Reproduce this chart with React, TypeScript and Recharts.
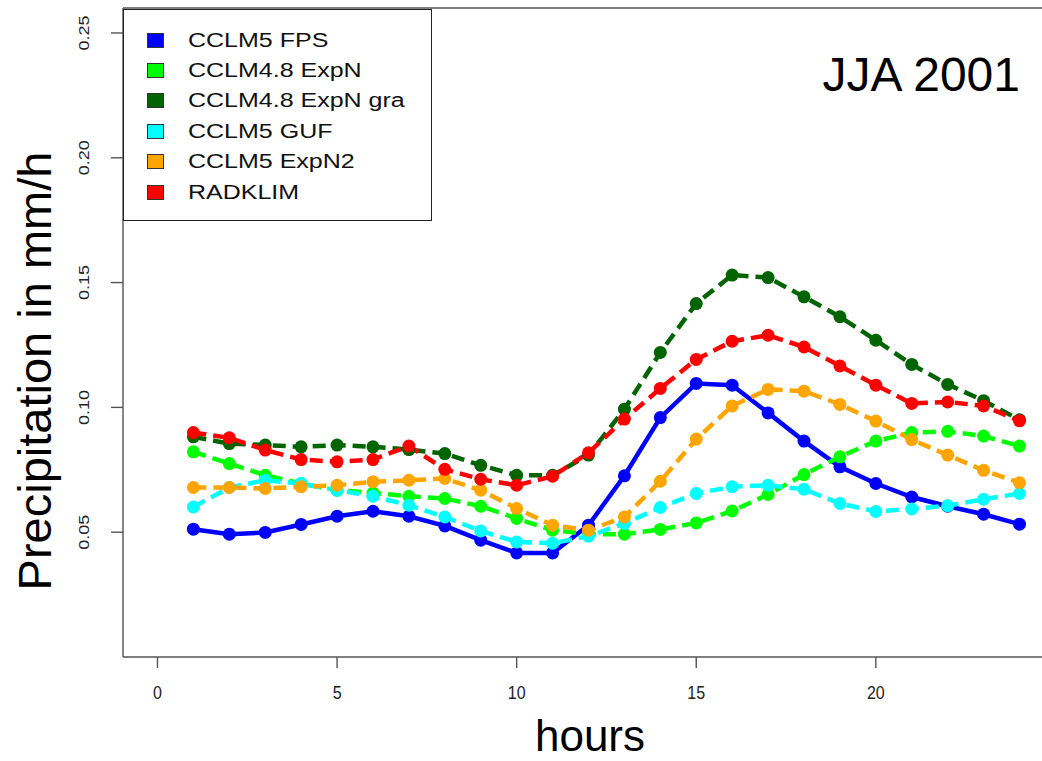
import { LineChart, Line, XAxis, YAxis, ReferenceLine } from 'recharts'

const HOURS = [1, 2, 3, 4, 5, 6, 7, 8, 9, 10, 11, 12, 13, 14, 15, 16, 17, 18, 19, 20, 21, 22, 23, 24]

const FPS = [0.0512, 0.0492, 0.0499, 0.0531, 0.0564, 0.0584, 0.0564, 0.0525, 0.0468, 0.0417, 0.0417, 0.0528, 0.0726, 0.0959, 0.1096, 0.1089, 0.0978, 0.0865, 0.0762, 0.0695, 0.0641, 0.0604, 0.0572, 0.0532]
const EXPN = [0.0822, 0.0775, 0.0728, 0.0695, 0.0668, 0.0657, 0.0644, 0.0635, 0.0604, 0.0555, 0.0508, 0.0492, 0.0492, 0.0511, 0.0537, 0.0585, 0.0651, 0.0731, 0.0802, 0.0865, 0.0899, 0.0904, 0.0885, 0.0845]
const EXPN_GRA = [0.0882, 0.0855, 0.0849, 0.0842, 0.0849, 0.0842, 0.0831, 0.0815, 0.0768, 0.0728, 0.0728, 0.0809, 0.0993, 0.122, 0.1416, 0.153, 0.152, 0.1443, 0.1363, 0.1269, 0.1172, 0.1092, 0.1027, 0.095]
const GUF = [0.0601, 0.0679, 0.0708, 0.0695, 0.0668, 0.0644, 0.0608, 0.0561, 0.0505, 0.0461, 0.0456, 0.0484, 0.0535, 0.0599, 0.0655, 0.0682, 0.0688, 0.0672, 0.0615, 0.0583, 0.0593, 0.0606, 0.0632, 0.0655]
const EXPN2 = [0.0679, 0.0679, 0.0675, 0.0682, 0.0688, 0.0702, 0.0708, 0.0715, 0.0668, 0.0595, 0.0528, 0.0508, 0.0561, 0.0704, 0.0873, 0.1006, 0.1072, 0.1065, 0.1012, 0.0945, 0.0871, 0.0809, 0.0748, 0.0698]
const RADKLIM = [0.0899, 0.0878, 0.0829, 0.0791, 0.0782, 0.0791, 0.0845, 0.0752, 0.0712, 0.0688, 0.0724, 0.0818, 0.0953, 0.1076, 0.1192, 0.1265, 0.1289, 0.1242, 0.1166, 0.1089, 0.1016, 0.1022, 0.1006, 0.0946]

const X_TICKS = [0, 5, 10, 15, 20]
const Y_TICKS = [0.05, 0.1, 0.15, 0.2, 0.25]
const Y_LABELS = ['0.05', '0.10', '0.15', '0.20', '0.25']

// legend order = draw order (later on top)
const SERIES = [
  { key: 'fps', name: 'CCLM5 FPS', values: FPS, color: '#0000ff', dashed: false },
  { key: 'expn', name: 'CCLM4.8 ExpN', values: EXPN, color: '#00ff00', dashed: true },
  { key: 'gra', name: 'CCLM4.8 ExpN gra', values: EXPN_GRA, color: '#006400', dashed: true },
  { key: 'guf', name: 'CCLM5 GUF', values: GUF, color: '#00ffff', dashed: true },
  { key: 'expn2', name: 'CCLM5 ExpN2', values: EXPN2, color: '#ffa500', dashed: true },
  { key: 'rad', name: 'RADKLIM', values: RADKLIM, color: '#ff0000', dashed: true },
]

const rows = HOURS.map((h, i) => {
  const r: Record<string, number> = { hour: h }
  SERIES.forEach(s => { r[s.key] = s.values[i] })
  return r
})

const FONT = '"Liberation Sans", Arial, Helvetica, sans-serif'
const AXIS = '#555'

function XTick({ x, y, payload }: any) {
  return (
    <text transform={`translate(${x},${y + 29}) scale(1,1.2)`} textAnchor="middle" fontSize={16} fill="#222" fontFamily={FONT}>
      {payload.value}
    </text>
  )
}

function YTick({ x, y, payload, index }: any) {
  return (
    <text transform={`translate(${x - 20},${y}) rotate(-90) scale(1,0.78)`} textAnchor="middle" fontSize={18} fill="#222" fontFamily={FONT}>
      {Y_LABELS[index] ?? payload.value}
    </text>
  )
}

export default function App() {
  return (
    <div style={{ position: 'absolute', left: 0, top: 0, width: 1042, height: 761, overflow: 'hidden', background: '#fff' }}>
      <LineChart width={1054} height={761} data={rows} margin={{ top: 8, right: 0, bottom: 0, left: 0 }}>
        <XAxis
          dataKey="hour"
          type="number"
          domain={[-0.96, 24.96]}
          ticks={X_TICKS}
          allowDataOverflow
          height={104}
          tickSize={11}
          stroke={AXIS}
          strokeWidth={1.4}
          tick={<XTick />}
        />
        <YAxis
          type="number"
          domain={[0, 0.26]}
          ticks={Y_TICKS}
          allowDataOverflow
          width={123}
          tickSize={12}
          stroke={AXIS}
          strokeWidth={1.4}
          tick={<YTick />}
        />
        <ReferenceLine y={0.26} stroke={AXIS} strokeWidth={1.4} />
        {SERIES.map(s => (
          <Line
            key={s.key}
            dataKey={s.key}
            name={s.name}
            type="linear"
            stroke={s.color}
            strokeWidth={4.5}
            strokeDasharray={s.dashed ? '13 7' : undefined}
            dot={{ r: 6.5, fill: s.color, stroke: 'none' }}
            activeDot={false}
            isAnimationActive={false}
          />
        ))}
      </LineChart>

      {/* axis titles */}
      <svg width={1042} height={761} style={{ position: 'absolute', left: 0, top: 0, pointerEvents: 'none' }}>
        <text x={590} y={751} textAnchor="middle" fontSize={44} fill="#000" fontFamily={FONT}>hours</text>
        <text transform="translate(51,371) rotate(-90)" textAnchor="middle" fontSize={47} fill="#000" fontFamily={FONT}>Precipitation in mm/h</text>
      </svg>

      {/* legend */}
      <div style={{ position: 'absolute', left: 123, top: 9, width: 309, height: 212, boxSizing: 'border-box', border: '1.3px solid #222', paddingTop: 15, background: '#fff', fontFamily: FONT }}>
        {SERIES.map(s => (
          <div key={s.key} style={{ height: 30.4, display: 'flex', alignItems: 'center' }}>
            <span style={{ display: 'inline-block', marginLeft: 23, width: 17, height: 15, boxSizing: 'border-box', background: s.color, border: '1px solid #333' }} />
            <span style={{ display: 'inline-block', marginLeft: 24, fontSize: 20, color: '#111', whiteSpace: 'nowrap', transform: 'scale(1.25,1)', transformOrigin: 'left center' }}>{s.name}</span>
          </div>
        ))}
      </div>

      <div style={{ position: 'absolute', right: 1042 - 1020, top: 51, fontSize: 48, lineHeight: '48px', fontFamily: FONT, color: '#000', whiteSpace: 'nowrap' }}>
        JJA 2001
      </div>
    </div>
  )
}
